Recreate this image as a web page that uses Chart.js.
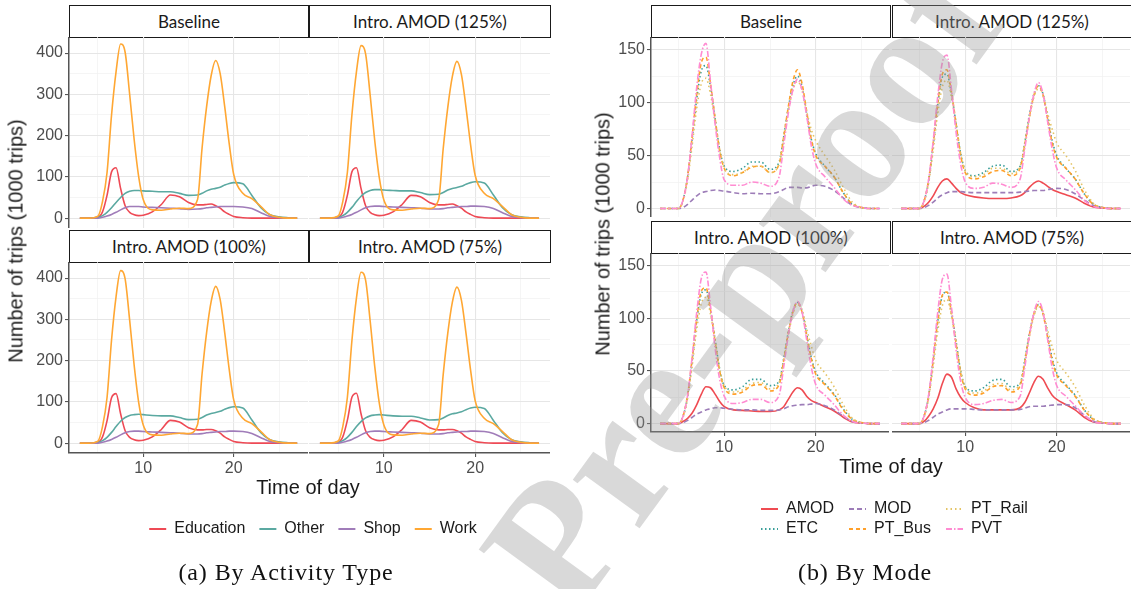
<!DOCTYPE html>
<html>
<head>
<meta charset="utf-8">
<script src="https://cdn.jsdelivr.net/npm/chart.js@4.4.1/dist/chart.umd.min.js"></script>
<style>
  body { margin: 0; background: #fff; width: 1131px; height: 589px; position: relative; overflow: hidden; font-family: "Liberation Sans", Arial, sans-serif; }
  canvas { position: absolute; }
  .strip { position: absolute; box-sizing: border-box; border: 1px solid #1a1a1a; background: #fff; text-align: center; font-family: Lato, "Open Sans", sans-serif; font-size: 17px; color: #1a1a1a; }
  .title { position: absolute; color: #1a1a1a; font-size: 20px; white-space: nowrap; transform: translate(-50%, -50%); }
  .ytitle { transform: translate(-50%, -50%) rotate(-90deg); }
  .caption { position: absolute; font-family: "Liberation Serif", serif; font-size: 24px; letter-spacing: 0.9px; white-space: nowrap; transform: translate(-50%, -50%); color: #111; }
  .watermark { position: absolute; left: 552px; top: 546px; transform: translate(-50%, -50%) rotate(-54deg); font-family: "Liberation Serif", serif; font-weight: bold; font-size: 180px; color: rgba(150,150,150,0.36); white-space: nowrap; z-index: 10; pointer-events: none; }
</style>
</head>
<body>
<script>
// hours of the day at which values were read
const hours = [3,4,5,5.5,6,6.5,7,7.5,8,8.5,9,9.5,10,11,12,13,14,15,16,16.5,17,17.5,18,18.5,19,19.5,20,21,22,23,24,25,26,27];

const scenarios = ['Baseline', 'Intro. AMOD (125%)', 'Intro. AMOD (100%)', 'Intro. AMOD (75%)'];

// (a) by activity type
const activityNames = ['Education', 'Other', 'Shop', 'Work'];
const activityColors = ['#EE4A55', '#5BA9A1', '#A07CB9', '#FFA733'];

const eduBase   = [0,0,2, 15,55,112,122,72,30,14,8,6,7, 15,33,56,52,38,32, 32,33,34,30,24,15,9,4, 1,0,0,0,0,0,0];
const otherBase = [0,0,2, 6,14,25,38,50,60,65,67,67,66, 65,64,64,60,55,56, 60,66,70,72,75,80,84,86, 83,55,25,8,3,1,0];
const shopBase  = [0,0,0, 2,5,9,14,20,25,28,28,28,27, 26,25,24,23,21,22, 23,25,26,27,28,28,28,28, 27,23,13,4,1,0,0];
const workBase  = [0,0,5, 40,110,250,355,422,402,300,190,100,45, 20,19,22,24,23,45, 170,270,345,382,350,270,180,105, 60,47,28,8,2,0,0];

const edu125   = [0,0,2, 15,55,112,122,72,30,14,8,6,7, 15,33,55,52,38,32, 32,33,34,30,24,15,9,4, 1,0,0,0,0,0,0];
const other125 = [0,0,2, 6,14,26,40,53,62,67,69,69,68, 67,66,66,62,57,58, 62,68,72,74,77,82,86,88, 85,56,25,8,3,1,0];
const shop125  = [0,0,0, 2,5,9,14,20,25,28,29,29,28, 27,26,25,24,22,22, 23,25,26,27,28,28,29,29, 28,23,13,4,1,0,0];
const work125  = [0,0,5, 40,110,250,355,418,398,298,188,98,44, 20,19,22,24,23,45, 168,268,343,380,348,268,178,104, 60,47,28,8,2,0,0];

const edu100   = [0,0,2, 15,54,110,120,71,30,14,8,6,7, 15,33,55,51,37,32, 32,33,33,30,24,15,9,4, 1,0,0,0,0,0,0];
const other100 = [0,0,2, 6,14,26,40,53,62,67,69,70,69, 67,66,66,62,57,58, 62,68,72,74,77,82,86,88, 85,56,25,8,3,1,0];
const shop100  = [0,0,0, 2,5,9,14,20,25,28,29,29,28, 27,26,25,24,22,22, 23,25,26,27,28,28,29,29, 28,23,13,4,1,0,0];
const work100  = [0,0,5, 40,110,250,355,418,398,298,188,98,44, 20,19,22,24,23,45, 168,268,343,380,348,268,178,104, 60,47,28,8,2,0,0];

const edu75   = [0,0,2, 15,55,111,121,71,30,14,8,6,7, 15,33,55,51,37,32, 32,33,33,30,24,15,9,4, 1,0,0,0,0,0,0];
const other75 = [0,0,2, 6,14,26,40,52,61,66,68,69,68, 66,65,65,61,56,57, 61,67,71,73,76,81,85,87, 84,55,25,8,3,1,0];
const shop75  = [0,0,0, 2,5,9,14,20,25,28,29,29,28, 27,26,25,24,22,22, 23,25,26,27,28,28,29,29, 28,23,13,4,1,0,0];
const work75  = [0,0,5, 40,110,248,352,414,395,296,186,97,44, 20,19,22,24,23,45, 166,266,341,378,346,266,177,103, 60,47,28,8,2,0,0];

// (b) by mode
const modeNames  = ['AMOD', 'ETC', 'MOD', 'PT_Bus', 'PT_Rail', 'PVT'];
const modeColors = ['#EF4B52', '#3A9F99', '#9D7DB8', '#FFA02A', '#E4C465', '#FF8CD2'];
const modeDashes = [[], [1.5, 2.5], [5, 3], [4, 3], [1.5, 3], [6, 2, 1.5, 2]];

const modBase  = [0,0,0, 1,4,8,12,15,16,17,17.5,17,16.5, 15,14,14.5,14,14,16, 18,20,20,20,19.5,19.5,21,22, 21,17,10,3,1,0,0];
const etcBase  = [0,0,0, 8,30,66,104,130,135,115,85,56,40, 35,38,44,44,37,44, 68,95,116,125,115,90,66,52, 40,30,15,4,1,0,0];
const busBase  = [0,0,0, 8,30,68,108,138,143,118,85,55,38, 31,34,39,40,34,42, 68,96,120,131,118,92,66,50, 40,30,15,4,1,0,0];
const railBase = [0,0,0, 7,27,60,95,118,123,108,82,55,38, 32,34,40,40,34,42, 65,92,112,120,112,92,75,64, 50,37,20,6,1,0,0];
const pvtBase  = [0,0,0, 8,30,70,115,146,156,120,80,48,27, 22,22,25,24,21,30, 60,90,112,122,112,88,60,42, 30,20,9,3,1,0,0];

const amod125 = [0,0,0, 2,6,12,20,26,28,24,19,15,13, 11,10,9.5,9.5,10,12, 15,20,24,26,24,21,18,16, 13,10,5,1.5,0.5,0,0];
const mod125  = [0,0,0, 1,3,6,10,13,15,16,16,16,15.5, 15,15,15,15,15,15.5, 16,16.5,17,17,17,18,18.5,19, 18,14,8,3,1,0,0];
const etc125  = [0,0,0, 7,26,60,98,124,127,108,80,52,36, 31,34,40,41,35,40, 62,88,108,116,108,86,64,50, 38,28,14,4,1,0,0];
const bus125  = [0,0,0, 7,27,62,100,127,131,110,80,50,34, 28,30,35,36,31,38, 60,86,107,116,107,85,62,48, 38,28,14,4,1,0,0];
const rail125 = [0,0,0, 6,24,55,90,115,121,105,80,52,36, 30,32,38,38,33,40, 60,85,105,113,108,90,75,62, 50,36,18,5,1,0,0];
const pvt125  = [0,0,0, 7,27,64,106,138,145,112,72,42,25, 19,20,24,23,20,28, 56,86,108,119,108,82,56,38, 27,18,8,2,0.5,0,0];

const amod100 = [0,0,0, 2,5,10,18,28,35,34,28,21,16, 13,12.5,12,11.5,11.5,13, 16,23,30,34,32,26,22,20, 16,12,6,1.5,0.5,0,0];
const mod100  = [0,0,0, 1,3,6,9,11,13,14,15,15,14.5, 13.5,13,13,12.5,12.5,13, 14,16,17,17.5,18,18,18.5,19, 17,13,7,2,0.5,0,0];
const etc100  = [0,0,0, 7,26,60,98,123,127,108,80,52,36, 32,35,42,42,36,40, 62,87,107,115,107,85,63,49, 38,28,14,4,1,0,0];
const bus100  = [0,0,0, 7,27,62,100,126,129,108,78,50,34, 28,30,36,37,31,37, 60,86,106,115,106,84,62,47, 37,27,13,4,1,0,0];
const rail100 = [0,0,0, 6,24,55,90,114,120,104,79,52,36, 30,32,38,39,33,39, 60,84,104,113,108,90,74,60, 48,35,18,5,1,0,0];
const pvt100  = [0,0,0, 7,27,64,106,138,144,112,72,42,26, 19,20,23,23,20,27, 54,84,106,116,106,80,54,37, 27,18,8,2,0.5,0,0];

const amod75 = [0,0,0, 2,7,14,24,38,47,44,33,25,20, 15,13,13,13,13,15, 20,29,39,45,42,34,27,23, 18,13,6,1.5,0.5,0,0];
const mod75  = [0,0,0, 1,3,6,9,11,13,14,14,14,14, 13.5,13,13,13,13,13.5, 14.5,16,16.5,16.5,16.5,17,17.5,18, 18,15,8,2,0.5,0,0];
const etc75  = [0,0,0, 7,26,60,97,121,125,106,78,50,35, 31,34,41,42,35,38, 60,85,104,113,105,84,62,48, 37,27,13,4,1,0,0];
const bus75  = [0,0,0, 7,26,60,98,122,125,105,76,48,33, 27,29,35,36,30,36, 58,84,104,113,104,82,60,46, 36,26,13,4,1,0,0];
const rail75 = [0,0,0, 6,24,54,88,112,118,102,77,50,35, 29,31,37,38,32,38, 58,82,102,111,106,89,73,60, 48,35,18,5,1,0,0];
const pvt75  = [0,0,0, 7,27,64,106,137,142,110,70,40,25, 18,19,22,23,20,26, 53,83,105,116,106,80,53,36, 26,17,8,2,0.5,0,0];

// ticks
const xGrid = [5, 10, 15, 20, 25];
const xLabels = [10, 20];
const actYGrid = [0, 50, 100, 150, 200, 250, 300, 350, 400];
const actYLabels = [0, 100, 200, 300, 400];
const modeYGrid = [0, 25, 50, 75, 100, 125, 150];
const modeYLabels = [0, 50, 100, 150];

const activityPanels = [
  [eduBase, otherBase, shopBase, workBase],
  [edu125, other125, shop125, work125],
  [edu100, other100, shop100, work100],
  [edu75, other75, shop75, work75]
];
const modePanels = [
  [null, etcBase, modBase, busBase, railBase, pvtBase],
  [amod125, etc125, mod125, bus125, rail125, pvt125],
  [amod100, etc100, mod100, bus100, rail100, pvt100],
  [amod75, etc75, mod75, bus75, rail75, pvt75]
];

const AXIS = '#555555';
const TICKTXT = '#4D4D4D';
const Y_AXIS_W = 50;
const X_AXIS_H = 26;

function addDiv(cls, text, css) {
  const d = document.createElement('div');
  d.className = cls;
  d.textContent = text;
  Object.assign(d.style, css);
  document.body.appendChild(d);
  return d;
}

function addCanvas(left, top, w, h) {
  const c = document.createElement('canvas');
  c.width = w; c.height = h;
  c.style.left = left + 'px'; c.style.top = top + 'px';
  document.body.appendChild(c);
  return c;
}

function makePanel(p) {
  const cLeft = p.left - (p.showY ? Y_AXIS_W : 0);
  const cW = p.w + (p.showY ? Y_AXIS_W : 0);
  const cH = p.h + (p.showX ? X_AXIS_H : 0);
  const canvas = addCanvas(cLeft, p.top, cW, cH);

  const datasets = [];
  p.series.forEach((arr, i) => {
    if (!arr) return;
    datasets.push({
      label: p.names[i],
      data: hours.map((h, k) => ({ x: h, y: arr[k] })),
      borderColor: p.colors[i],
      borderDash: p.dashes ? p.dashes[i] : [],
      borderWidth: 1.6,
      order: -i
    });
  });

  const gridColor = ctx => (p.majors.includes(ctx.tick.value) ? '#E6E6E6' : '#F1F1F1');
  const gridWidth = ctx => (p.majors.includes(ctx.tick.value) ? 1.1 : 0.7);

  new Chart(canvas, {
    type: 'line',
    data: { datasets },
    options: {
      animation: false,
      responsive: false,
      devicePixelRatio: 1,
      layout: { padding: 0 },
      elements: { point: { radius: 0 }, line: { cubicInterpolationMode: 'monotone' } },
      plugins: { legend: { display: false }, tooltip: { enabled: false } },
      scales: {
        x: {
          type: 'linear', min: p.xMin, max: p.xMax,
          afterBuildTicks: s => { s.ticks = xGrid.map(v => ({ value: v })); },
          afterFit: s => { s.height = p.showX ? X_AXIS_H : 0; s.paddingLeft = 0; s.paddingRight = 0; },
          ticks: {
            display: p.showX, autoSkip: false, maxRotation: 0, padding: 2, color: TICKTXT,
            font: { family: '"Liberation Sans", Arial', size: 16 },
            callback: v => (xLabels.includes(v) ? String(v) : '')
          },
          grid: {
            color: ctx => (xLabels.includes(ctx.tick.value) ? '#E6E6E6' : '#F1F1F1'),
            lineWidth: ctx => (xLabels.includes(ctx.tick.value) ? 1.1 : 0.7),
            drawTicks: p.showX, tickLength: 4,
            tickColor: ctx => (xLabels.includes(ctx.tick.value) ? AXIS : 'rgba(0,0,0,0)')
          },
          border: { display: p.showX, color: AXIS, width: 1.5 }
        },
        y: {
          type: 'linear', min: p.yMin, max: p.yMax,
          afterBuildTicks: s => { s.ticks = p.yGrid.map(v => ({ value: v })); },
          afterFit: s => { s.width = p.showY ? Y_AXIS_W : 0; s.paddingTop = 0; s.paddingBottom = 0; },
          ticks: {
            display: p.showY, autoSkip: false, padding: 2, color: TICKTXT,
            font: { family: '"Liberation Sans", Arial', size: 16 },
            callback: v => (p.majors.includes(v) ? String(v) : '')
          },
          grid: {
            color: gridColor, lineWidth: gridWidth,
            drawTicks: p.showY, tickLength: 4,
            tickColor: ctx => (p.majors.includes(ctx.tick.value) ? AXIS : 'rgba(0,0,0,0)')
          },
          border: { display: p.showY, color: AXIS, width: 1.5 }
        }
      }
    }
  });
}

function makeLegend(left, top, w, h, names, colors, dashes, align, pad) {
  const canvas = addCanvas(left, top, w, h);
  new Chart(canvas, {
    type: 'line',
    data: {
      datasets: names.map((n, i) => ({
        label: n, data: [], borderColor: colors[i], backgroundColor: colors[i],
        borderDash: dashes ? dashes[i] : [], borderWidth: 2
      }))
    },
    options: {
      animation: false, responsive: false, devicePixelRatio: 1,
      layout: { padding: 0 },
      scales: { x: { display: false }, y: { display: false } },
      plugins: {
        tooltip: { enabled: false },
        legend: {
          display: true, position: 'top', align: align,
          labels: {
            usePointStyle: true, pointStyle: 'line', pointStyleWidth: 17,
            padding: pad, color: '#1a1a1a',
            font: { family: '"Liberation Sans", Arial', size: 16 },
            generateLabels: chart => chart.data.datasets.map((ds, i) => ({
              text: ds.label, datasetIndex: i, hidden: false,
              strokeStyle: ds.borderColor, fillStyle: ds.borderColor, fontColor: '#1a1a1a',
              lineWidth: 2, lineDash: ds.borderDash, pointStyle: 'line'
            }))
          }
        }
      }
    }
  });
}

// ---- (a) By Activity Type ----
const actCols = [{ left: 69, w: 239 }, { left: 309, w: 241 }];
const actRows = [{ strip: 5, top: 37, h: 191 }, { strip: 230, top: 262, h: 191 }];
scenarios.forEach((name, k) => {
  const col = actCols[k % 2], row = actRows[Math.floor(k / 2)];
  addDiv('strip', name, { left: col.left + 'px', top: row.strip + 'px', width: (col.w + 1) + 'px', height: (row.top - row.strip + 1) + 'px', lineHeight: (row.top - row.strip - 1) + 'px' });
  makePanel({
    left: col.left, top: row.top, w: col.w, h: row.h,
    showY: k % 2 === 0, showX: k >= 2,
    xMin: 1.8, xMax: 28.2, yMin: -24, yMax: 439,
    yGrid: actYGrid, majors: actYLabels,
    series: activityPanels[k], names: activityNames, colors: activityColors
  });
});

// ---- (b) By Mode ----
const modeCols = [{ left: 651, w: 238 }, { left: 892, w: 238 }];
const modeRows = [{ strip: 5, top: 37, h: 180 }, { strip: 221, top: 253, h: 179 }];
scenarios.forEach((name, k) => {
  const col = modeCols[k % 2], row = modeRows[Math.floor(k / 2)];
  addDiv('strip', name, { left: col.left + 'px', top: row.strip + 'px', width: (col.w + 2) + 'px', height: (row.top - row.strip + 1) + 'px', lineHeight: (row.top - row.strip - 1) + 'px' });
  makePanel({
    left: col.left, top: row.top, w: col.w, h: row.h,
    showY: k % 2 === 0, showX: k >= 2,
    xMin: 2, xMax: 28, yMin: -8, yMax: 162,
    yGrid: modeYGrid, majors: modeYLabels,
    series: modePanels[k], names: modeNames, colors: modeColors, dashes: modeDashes
  });
});

// axis titles
addDiv('title', 'Time of day', { left: '308px', top: '487px' });
addDiv('title ytitle', 'Number of trips (1000 trips)', { left: '16px', top: '241px' });
addDiv('title', 'Time of day', { left: '891px', top: '466px' });
addDiv('title ytitle', 'Number of trips (1000 trips)', { left: '603px', top: '234px' });

// legends
makeLegend(113, 507, 400, 100, activityNames, activityColors, null, 'center', 14);
makeLegend(757, 497, 88, 100, [modeNames[0], modeNames[1]], [modeColors[0], modeColors[1]], [modeDashes[0], modeDashes[1]], 'start', 4);
makeLegend(845, 497, 95, 100, [modeNames[2], modeNames[3]], [modeColors[2], modeColors[3]], [modeDashes[2], modeDashes[3]], 'start', 4);
makeLegend(942, 497, 90, 100, [modeNames[4], modeNames[5]], [modeColors[4], modeColors[5]], [modeDashes[4], modeDashes[5]], 'start', 4);

// captions
addDiv('caption', '(a) By Activity Type', { left: '286px', top: '572px' });
addDiv('caption', '(b) By Mode', { left: '865px', top: '572px' });

// watermark
addDiv('watermark', 'Journal Pre-proof', {});
</script>
</body>
</html>
